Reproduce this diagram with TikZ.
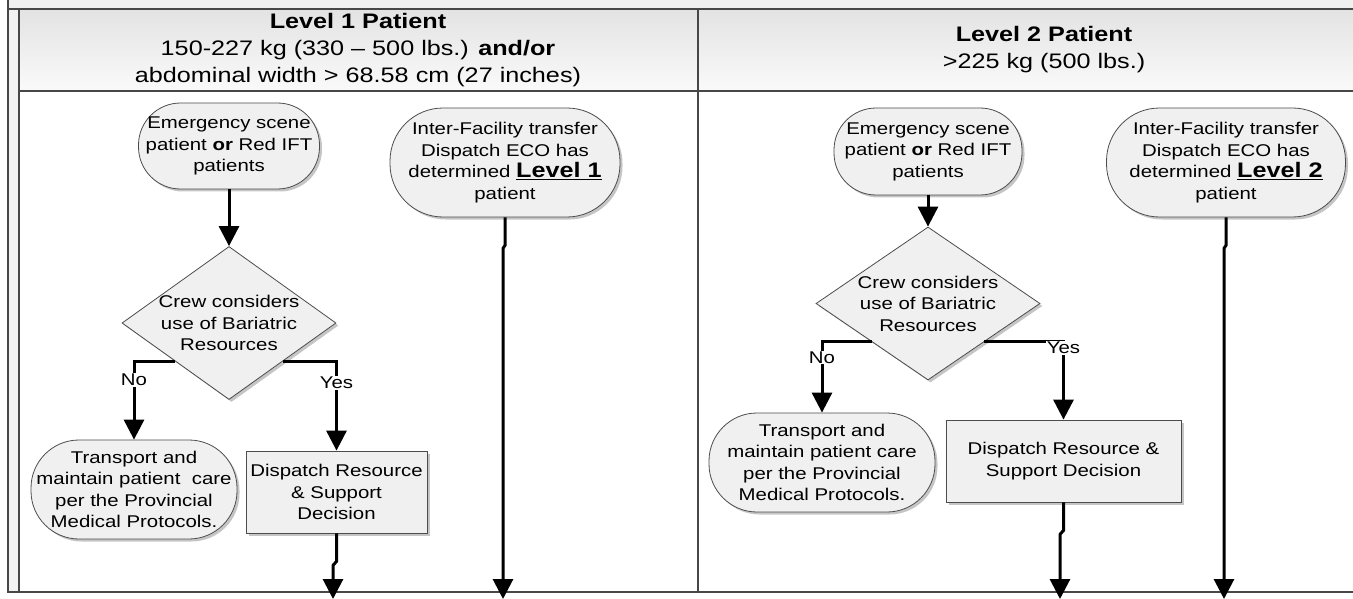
\documentclass[tikz,border=0pt]{standalone}
\usepackage{fontspec}
\setmainfont{Liberation Sans}[FakeStretch=1.2]
\usetikzlibrary{shapes.geometric,arrows.meta,shadows}

\begin{document}
\begin{tikzpicture}[x=1pt,y=-1pt,
    frame/.style={draw=black!72,line width=1.6pt},
    head/.style={align=center,font=\fontsize{21}{27}\selectfont},
    box/.style={draw=black!70,line width=0.8pt,fill=black!6,align=center,inner sep=1pt,
      font=\fontsize{17}{21.5}\selectfont,
      drop shadow={shadow xshift=2.5pt,shadow yshift=-2.5pt,fill=black!45,opacity=.5}},
    oval/.style={box,rounded corners=#1},
    oval/.default=42pt,
    decision/.style={box,diamond,shape aspect=1.4,inner xsep=-20pt,inner ysep=-6pt},
    flow/.style={line width=3pt,-{Triangle[length=20pt,width=20pt]}},
    branch/.style={fill=white,inner sep=1pt,font=\fontsize{17}{20}\selectfont}]
  \useasboundingbox (0,0) rectangle (1353,599);
  % Frame
  \fill[black!6] (8,0) rectangle (1353,9);
  \fill[black!5] (8,9) rectangle (19,592);
  \shade[top color=black!11,bottom color=black!2] (19,9) rectangle (1353,91);
  \draw[frame] (8,0) -- (8,592) -- (1353,592);
  \draw[frame] (8,9) -- (1353,9);
  \draw[frame] (19,9) -- (19,592);
  \draw[frame] (19,91) -- (1353,91);
  \draw[frame] (698,9) -- (698,592);
  % Headers
  \node[head] (head1) at (358,50) {\textbf{Level 1 Patient}\\150-227 kg (330 – 500 lbs.) \textbf{and/or}\\abdominal width > 68.58 cm (27 inches)};
  \node[head] (head2) at (1044,50) {\textbf{Level 2 Patient}\\>225 kg (500 lbs.)};
  % Level 1
  \node[oval,minimum width=181pt,minimum height=86pt] (scene1) at (229,146) {Emergency scene\\patient \textbf{or} Red IFT\\patients};
  \node[oval=53pt,minimum width=230pt,minimum height=109pt] (ift1) at (505,162.5) {Inter-Facility transfer\\Dispatch ECO has\\determined {\fontsize{21}{21}\selectfont\underline{\textbf{Level 1}}}\\patient};
  \node[decision,minimum width=214pt,minimum height=153pt] (crew1) at (229,323) {Crew considers\\use of Bariatric\\Resources};
  \node[oval=48pt,minimum width=206pt,minimum height=99pt] (care1) at (134,489.5) {Transport and\\maintain patient~ care\\per the Provincial\\Medical Protocols.};
  \node[box,minimum width=181pt,minimum height=82pt] (disp1) at (336.5,492) {Dispatch Resource\\\& Support\\Decision};
  \coordinate (out1) at (333,599);
  \coordinate (out2) at (503,599);
  \draw[flow] (scene1) -- (crew1);
  \draw[flow] (crew1.south west) -| node[branch,pos=.62] {No} (care1);
  \draw[flow] (crew1.south east) -| node[branch,pos=.62] {Yes} (disp1);
  \draw[flow] (disp1.south) -- ++(0,28) -- ++(-3.5,4) -- (out1);
  \draw[flow] (ift1.south) -- ++(0,28) -- ++(-2,3) -- (out2);
  % Level 2
  \node[oval,minimum width=188pt,minimum height=87pt] (scene2) at (928,151.5) {Emergency scene\\patient \textbf{or} Red IFT\\patients};
  \node[oval=53pt,minimum width=239pt,minimum height=109pt] (ift2) at (1226,162.5) {Inter-Facility transfer\\Dispatch ECO has\\determined {\fontsize{21}{21}\selectfont\underline{\textbf{Level 2}}}\\patient};
  \node[decision,minimum width=224pt,minimum height=153pt] (crew2) at (928,303.5) {Crew considers\\use of Bariatric\\Resources};
  \node[oval=48pt,minimum width=226pt,minimum height=99pt] (care2) at (822,462.5) {Transport and\\maintain patient care\\per the Provincial\\Medical Protocols.};
  \node[box,minimum width=235pt,minimum height=82pt] (disp2) at (1063.5,461) {Dispatch Resource \&\\Support Decision};
  \coordinate (out3) at (1060,599);
  \coordinate (out4) at (1224,599);
  \draw[flow] (scene2) -- (crew2);
  \draw[flow] (crew2.south west) -| node[branch,pos=.61] {No} (care2);
  \draw[flow] (crew2.south east) -| node[branch,pos=.5,yshift=-6pt] {Yes} (disp2);
  \draw[flow] (disp2.south) -- ++(0,28) -- ++(-3.5,4) -- (out3);
  \draw[flow] (ift2.south) -- ++(0,28) -- ++(-2,3) -- (out4);
\end{tikzpicture}
\end{document}
